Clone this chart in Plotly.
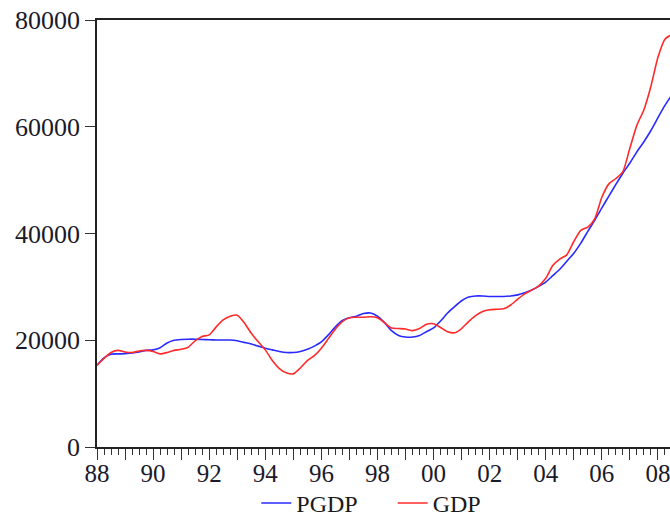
import plotly.graph_objects as go

quarters = [1988 + i * 0.25 for i in range(83)]

gdp = [15300, 16600, 17700, 18100, 17800, 17700, 18000, 18100,
       17900, 17450, 17700, 18100, 18300, 18700, 19900, 20700,
       21000, 22500, 23800, 24500, 24700, 23300, 21300, 19700,
       18200, 16200, 14700, 13900, 13700, 14800, 16200, 17100,
       18500, 20300, 22100, 23500, 24200, 24300, 24300, 24400,
       24200, 23300, 22300, 22200, 22100, 21800, 22200, 23000,
       23100, 22400, 21600, 21400, 22200, 23500, 24600, 25400,
       25700, 25800, 25900, 26600, 27700, 28700, 29400, 30200,
       31600, 34000, 35200, 36000, 38500, 40600, 41200, 42800,
       46800, 49300, 50300, 51600, 56000, 60300, 63200, 67600,
       73000, 76400, 77300]

pgdp = [15300, 16700, 17400, 17450, 17500, 17600, 17800, 18100,
        18200, 18600, 19500, 20000, 20150, 20200, 20200, 20150,
        20100, 20050, 20050, 20050, 19900, 19600, 19300, 18900,
        18500, 18200, 17900, 17700, 17700, 17900, 18300, 18900,
        19700, 21000, 22500, 23700, 24200, 24500, 25000, 25100,
        24500, 23300, 21800, 20900, 20600, 20600, 20900, 21600,
        22300, 23600, 25100, 26300, 27400, 28100, 28300, 28300,
        28200, 28200, 28200, 28300, 28500, 28900, 29400, 30100,
        30900, 32100, 33300, 34800, 36300, 38200, 40400, 42500,
        44800, 47000, 49200, 51300, 53200, 55300, 57200, 59300,
        61700, 64000, 66000]

year_ticks = list(range(1988, 2009))
year_labels = [f"{y % 100:02d}" if (y - 1988) % 2 == 0 else "" for y in year_ticks]
y_ticks = [0, 20000, 40000, 60000, 80000]
y_labels = ["0", "20000", "40000", "60000", "80000"]

font = "Liberation Serif, Times New Roman, serif"

fig = go.Figure()
fig.add_trace(go.Scatter(x=quarters, y=pgdp, name="PGDP", mode="lines", legend="legend",
                         line=dict(color="#2a2aff", width=1.6, shape="spline", smoothing=0.6)))
fig.add_trace(go.Scatter(x=quarters, y=gdp, name="GDP", mode="lines", legend="legend2",
                         line=dict(color="#ff2a2a", width=1.6, shape="spline", smoothing=0.6)))

leg_common = dict(orientation="h", y=-0.132, xanchor="left", yanchor="middle",
                  font=dict(family=font, size=24, color="#1a1a1a"),
                  bgcolor="rgba(0,0,0,0)")

fig.update_layout(
    width=670, height=518,
    margin=dict(l=97, r=0, t=20, b=71, autoexpand=False),
    paper_bgcolor="white", plot_bgcolor="white",
    font=dict(family=font, size=25, color="#1a1a2a"),
    showlegend=True,
    legend=dict(x=0.278, **leg_common),
    legend2=dict(x=0.516, **leg_common),
)
fig.update_xaxes(range=[1988, 2008.43], showgrid=False, zeroline=False, automargin=False,
                 showline=True, linecolor="#222", linewidth=1.5, mirror=True,
                 tickmode="array", tickvals=year_ticks, ticktext=year_labels,
                 ticks="outside", ticklen=11, tickwidth=1, tickcolor="#333",
                 ticklabeloverflow="allow", ticklabelstandoff=-8,
                 minor=dict(tickmode="linear", tick0=1988, dtick=0.25, ticks="outside",
                            ticklen=6, tickwidth=1, tickcolor="#333", showgrid=False),
                 tickfont=dict(family=font, size=25))
fig.update_yaxes(range=[0, 80000], showgrid=False, zeroline=False, automargin=False,
                 showline=True, linecolor="#222", linewidth=1.5, mirror=False,
                 tickmode="array", tickvals=y_ticks, ticktext=y_labels,
                 ticks="outside", ticklen=10, tickwidth=1, tickcolor="#333",
                 ticklabeloverflow="allow",
                 tickfont=dict(family=font, size=26))

fig.write_html("out.html", config={"displayModeBar": False},
               post_script="document.body.style.margin='0';document.body.style.overflow='hidden';")
